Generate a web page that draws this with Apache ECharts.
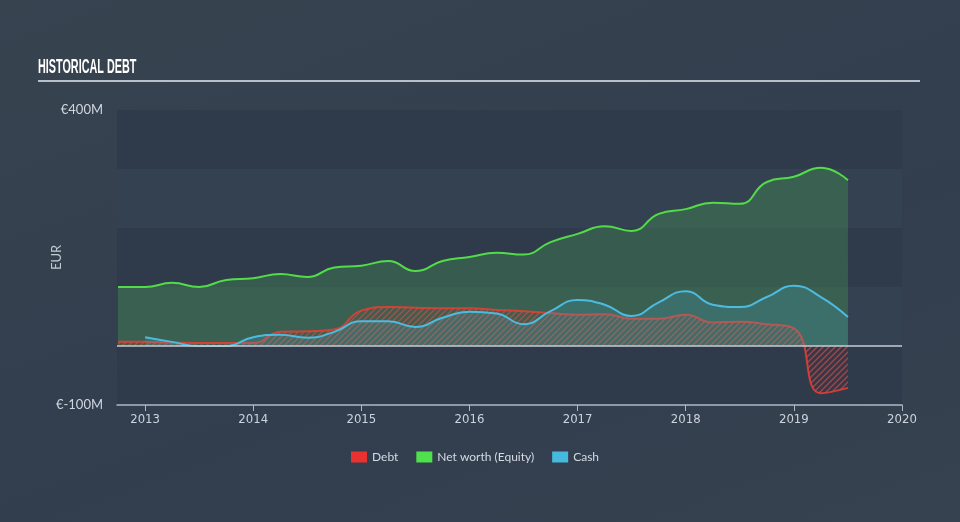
<!DOCTYPE html>
<html>
<head>
<meta charset="utf-8">
<script src="https://cdn.jsdelivr.net/npm/echarts@6/dist/echarts.min.js"></script>
<style>
html,body{margin:0;padding:0;width:960px;height:522px;overflow:hidden;}
#c{width:960px;height:522px;background:linear-gradient(160deg,#37434f 0%,#323e4e 60%,#36424f 100%);}
</style>
</head>
<body>
<div id="c"></div>
<script>
// Data (decimal years, values in EUR millions)
var dates = [2012.75,2013.0,2013.25,2013.5,2013.75,2014.0,2014.25,2014.5,2014.75,2015.0,2015.25,2015.5,2015.75,2016.0,2016.25,2016.5,2016.75,2017.0,2017.25,2017.5,2017.75,2018.0,2018.25,2018.5,2018.75,2019.0,2019.25,2019.5];
var netWorth = [100,100,107,100,112,115,122,117,133,136,144,127,144,151,158,155,176,190,203,195,224,232,243,241,278,287,302,281];
var debt = [7,7,6,5,5,5,24,25,28,60,66,65,64,64,61,59,56,53,54,46,46,53,40,41,37,30,-80,-71];
var cashDates = [2013.0,2013.25,2013.5,2013.75,2014.0,2014.25,2014.5,2014.75,2015.0,2015.25,2015.5,2015.75,2016.0,2016.25,2016.5,2016.75,2017.0,2017.25,2017.5,2017.75,2018.0,2018.25,2018.5,2018.75,2019.0,2019.25,2019.5];
var cash = [15,7,0,0,15,19,14,24,42,42,32,48,58,55,37,59,78,70,51,74,93,70,66,83,102,83,49];
var yearTicks = [2013,2014,2015,2016,2017,2018,2019,2020];
var yLabels = [400,-100];

function pairs(xs, ys){ return xs.map(function(x,i){ return [x, ys[i]]; }); }

// hatch pattern
var pc = document.createElement('canvas');
pc.width = 6; pc.height = 6;
var pctx = pc.getContext('2d');
pctx.strokeStyle = 'rgba(232,64,58,0.75)';
pctx.lineWidth = 1.3;
pctx.beginPath();
pctx.moveTo(0,6); pctx.lineTo(6,0);
pctx.moveTo(-3,3); pctx.lineTo(3,-3);
pctx.moveTo(3,9); pctx.lineTo(9,3);
pctx.stroke();

var chart = echarts.init(document.getElementById('c'), null, {renderer:'canvas'});
var axisFont = "'Liberation Sans Narrow','DejaVu Sans Condensed',sans-serif";
chart.setOption({
  backgroundColor: 'transparent',
  animation: false,
  graphic: [
    {type:'text', left:38, top:57, scaleX:0.515, scaleY:1,
      style:{text:'HISTORICAL DEBT', fill:'#ffffff', font:"bold 21px 'Liberation Sans', Arial, sans-serif"}},
    {type:'rect', shape:{x:38, y:80, width:882, height:2}, style:{fill:'#b9bfc8'}},
    {type:'text', x:50, y:270, rotation:Math.PI/2,
      style:{text:'EUR', fill:'#c4cad3', font:"13px Lato, sans-serif"}}
  ],
  legend: {
    bottom: 54, left: 346,
    itemWidth: 16, itemHeight: 11, itemGap: 18,
    icon: 'rect',
    textStyle: {color:'#d4dae2', fontSize: 12, fontFamily: "Lato, sans-serif"},
    data: [
      {name:'Debt', itemStyle:{color:'#e8322f'}},
      {name:'Net worth (Equity)', itemStyle:{color:'#4fe04d'}},
      {name:'Cash', itemStyle:{color:'#46b9de'}}
    ]
  },
  grid: {left:117, right:58, top:110, bottom:117},
  xAxis: {
    type:'value', min:2012.74, max:2020,
    axisLine:{show:true, onZero:false, lineStyle:{color:'#aeb8c6', width:1.5}},
    axisTick:{show:true, customValues: yearTicks, length:6, lineStyle:{color:'#aeb8c6'}},
    axisLabel:{customValues: yearTicks, color:'#cdd3dc', fontSize:13, fontFamily: axisFont, margin:8,
      formatter:function(v){return String(Math.round(v));}},
    splitLine:{show:false}
  },
  yAxis: {
    type:'value', min:-100, max:400, interval:100,
    axisLine:{show:false}, axisTick:{show:false},
    axisLabel:{customValues: yLabels, color:'#d0d6de', fontSize:13, fontFamily:"Lato, sans-serif", margin:14,
      formatter:function(v){return '€' + v + 'M';}},
    splitLine:{show:false},
    splitArea:{show:true, areaStyle:{color:['#2f3b4b','#344150']}}
  },
  series: [
    {
      name:'Net worth (Equity)', type:'line', smooth:0.5, symbol:'none',
      data: pairs(dates, netWorth),
      lineStyle:{color:'#52dc47', width:2},
      itemStyle:{color:'#4fe04d'},
      areaStyle:{color:'rgba(76,175,90,0.42)'},
      z:2
    },
    {
      name:'Debt', type:'line', smooth:0.5, symbol:'none',
      data: pairs(dates, debt),
      lineStyle:{color:'rgba(232,64,52,0.85)', width:2},
      itemStyle:{color:'#e8322f'},
      areaStyle:{color:{image: pc, repeat:'repeat'}, opacity:1},
      markLine:{symbol:'none', silent:true, label:{show:false},
        lineStyle:{color:'#c9ccd2', width:1.5, type:'solid'},
        data:[{yAxis:0}]},
      z:3
    },
    {
      name:'Cash', type:'line', smooth:0.5, symbol:'none',
      data: pairs(cashDates, cash),
      lineStyle:{color:'#4cbbe0', width:2},
      itemStyle:{color:'#46b9de'},
      areaStyle:{color:'rgba(70,170,200,0.3)'},
      z:4
    }
  ]
});
</script>
</body>
</html>
